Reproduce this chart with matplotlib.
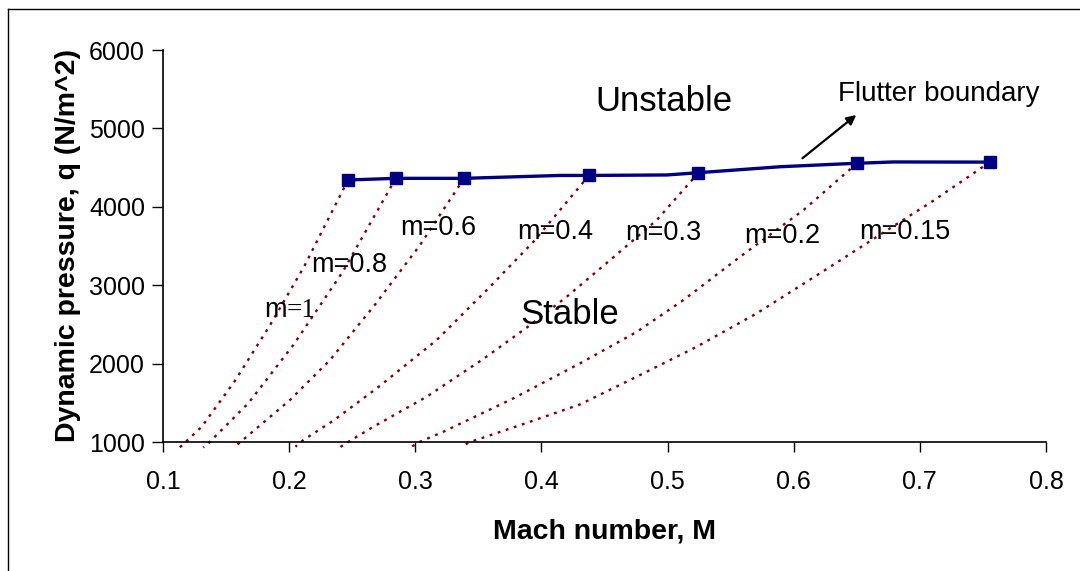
import matplotlib
matplotlib.use("Agg")
import matplotlib.pyplot as plt
from matplotlib.lines import Line2D

plt.rcParams['font.family'] = ['Liberation Sans', 'DejaVu Sans']

# Flutter boundary (line points; markers on subset)
boundary_M = [0.2467, 0.2845, 0.3387, 0.4148, 0.4377, 0.4994, 0.5245, 0.5893, 0.6369, 0.6501, 0.6791, 0.7555]
boundary_q = [4342, 4363, 4363, 4400, 4400, 4406, 4435, 4511, 4546, 4555, 4572, 4570]
marker_idx = [0, 1, 2, 4, 6, 9, 11]

# Constant-mass-ratio curves (Mach, q)
curve_labels = ["m=1", "m=0.8", "m=0.6", "m=0.4", "m=0.3", "m=0.2", "m=0.15"]
curve_M = [
    [0.2467, 0.2118, 0.1849, 0.1571, 0.1307, 0.1148, 0.111],
    [0.2845, 0.2425, 0.2033, 0.1676, 0.1359, 0.132],
    [0.3387, 0.3038, 0.2668, 0.2324, 0.2007, 0.1611, 0.156],
    [0.4377, 0.3937, 0.3593, 0.3170, 0.2695, 0.2350, 0.2113, 0.205],
    [0.5245, 0.4915, 0.4545, 0.4201, 0.3884, 0.3540, 0.3091, 0.2668, 0.2467, 0.240],
    [0.6501, 0.6078, 0.5576, 0.5126, 0.4756, 0.4307, 0.3778, 0.3223, 0.3038, 0.296],
    [0.7555, 0.7109, 0.6660, 0.6236, 0.5708, 0.5232, 0.4783, 0.4307, 0.3831, 0.3435, 0.336],
]
curve_q = [
    [4342, 3236, 2492, 1782, 1195, 953, 900],
    [4363, 3172, 2237, 1494, 983, 930],
    [4363, 3513, 2726, 2046, 1536, 996, 930],
    [4400, 3555, 2981, 2301, 1685, 1272, 1026, 940],
    [4435, 3832, 3321, 2853, 2460, 2060, 1578, 1195, 1000, 930],
    [4555, 3959, 3364, 2811, 2405, 2004, 1557, 1131, 1004, 930],
    [4570, 4080, 3619, 3180, 2642, 2216, 1855, 1480, 1215, 1000, 940],
]
label_M = [0.2023, 0.2475, 0.3181, 0.4109, 0.4965, 0.5909, 0.6884]
label_q = [2684, 3258, 3730, 3679, 3666, 3628, 3679]

x_ticks = [0.1, 0.2, 0.3, 0.4, 0.5, 0.6, 0.7, 0.8]
x_tick_labels = ["0.1", "0.2", "0.3", "0.4", "0.5", "0.6", "0.7", "0.8"]
y_ticks = [1000, 2000, 3000, 4000, 5000, 6000]
y_tick_labels = ["1000", "2000", "3000", "4000", "5000", "6000"]

fig = plt.figure(figsize=(10.8, 5.71), dpi=100)
ax = fig.add_axes([163/1080, 1 - 442/571, (1046 - 163)/1080, (442 - 50)/571])

red = '#800000'
navy = '#000080'
for M, q in zip(curve_M, curve_q):
    ax.plot(M, q, color=red, lw=1.7, linestyle=(0, (1.2, 2.4)), clip_on=False, zorder=2)

ax.plot(boundary_M, boundary_q, color=navy, lw=2.4, marker='s', markersize=9,
        markevery=marker_idx, markerfacecolor=navy, markeredgecolor=navy, zorder=3)

for lab, lx, ly in zip(curve_labels, label_M, label_q):
    if lab == "m=1":
        t = ax.text(lx - 0.013, ly, "m", fontsize=19.5, ha='center', va='center', color='black', zorder=4)
        ax.annotate("=1", xy=(1, 0), xycoords=t, ha='left', va='bottom',
                    fontsize=19.5, family='Liberation Serif', color='black', zorder=4)
    else:
        ax.text(lx, ly, lab, fontsize=19.5, ha='center', va='center', color='black', zorder=4)

ax.text(0.4973, 5337, "Unstable", fontsize=25, ha='center', va='center')
ax.text(0.4228, 2620, "Stable", fontsize=25, ha='center', va='center')
ax.text(0.6353, 5440, "Flutter boundary", fontsize=20, ha='left', va='center')
ax.annotate("", xy=(0.6513, 5193), xytext=(0.6052, 4597),
            arrowprops=dict(arrowstyle='-|>', color='black', lw=1.6, mutation_scale=14))

ax.set_xlim(0.1, 0.8)
ax.set_ylim(1000, 6000)
ax.set_xticks(x_ticks)
ax.set_xticklabels(x_tick_labels, fontsize=18)
ax.set_yticks(y_ticks)
ax.set_yticklabels(y_tick_labels, fontsize=18)
ax.tick_params(axis='x', direction='out', length=7, width=1, pad=13)
ax.tick_params(axis='y', direction='out', length=8, width=1, pad=5)
for s in ['top', 'right']:
    ax.spines[s].set_visible(False)
for s in ['left', 'bottom']:
    ax.spines[s].set_linewidth(1.2)
    ax.spines[s].set_color('black')

ax.set_xlabel("Mach number, M", fontsize=20.5, fontweight='bold', labelpad=18)
ax.set_ylabel("Dynamic pressure, q (N/m^2)", fontsize=20.5, fontweight='bold', labelpad=6)

# figure border (top and left visible)
fig.add_artist(Line2D([8/1080, 8/1080], [0, 1 - 9/571], transform=fig.transFigure, color='black', lw=1))
fig.add_artist(Line2D([8/1080, 1], [1 - 9/571, 1 - 9/571], transform=fig.transFigure, color='black', lw=1))

fig.savefig("out.png", dpi=100)
